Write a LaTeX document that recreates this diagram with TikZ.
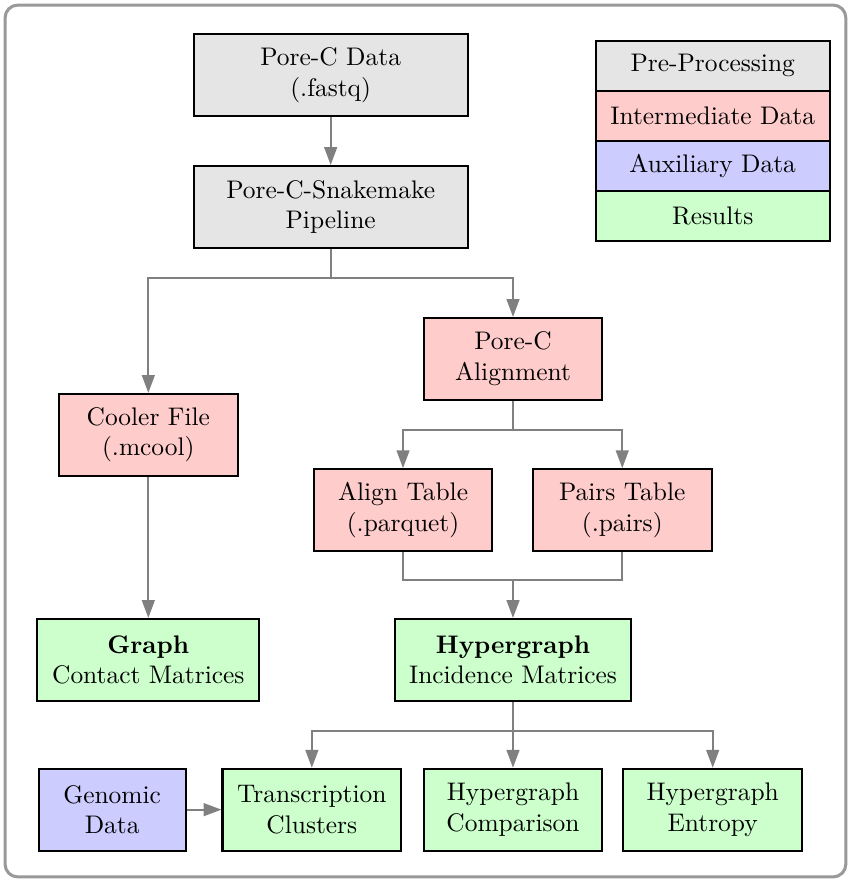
\documentclass[tikz,border=0pt]{standalone}
\usepackage{xcolor}
\usepackage{tikz}
\usetikzlibrary{arrows.meta, positioning, calc}

\begin{document}
\begin{tikzpicture}[
	>={Triangle[length=7pt,width=5pt]},
	box/.style={rectangle, draw, thick, align=center, minimum width=2.47cm, minimum height=1.13cm},
	prep/.style={box, fill=gray!20},
	inter/.style={box, fill=red!20},
	aux/.style={box, fill=blue!20},
	result/.style={box, fill=green!20},
	legend/.style={rectangle, draw, thick, outer sep=0pt, minimum width=3.23cm, minimum height=0.69cm},
	link/.style={draw=gray, thick},
	flow/.style={link, ->}
	]
	
	% Frame
	\useasboundingbox (0,0) rectangle (11.76,-12.19);
	\draw[gray!80, line width=1.2pt, rounded corners=5pt] (0.07,-0.07) rectangle (11.69,-12.12);
	
	% Pre-processing
	\node[prep, minimum width=3.79cm] (data) at (4.57,-1.04) {Pore-C Data\\(.fastq)};
	\node[prep, minimum width=3.79cm] (pipe) at (4.57,-2.86) {Pore-C-Snakemake\\Pipeline};
	
	% Intermediate data
	\node[inter] (align) at (7.09,-4.96) {Pore-C\\Alignment};
	\node[inter] (cooler) at (2.05,-6.01) {Cooler File\\(.mcool)};
	\node[inter] (atable) at (5.57,-7.05) {Align Table\\(.parquet)};
	\node[inter] (ptable) at (8.60,-7.05) {Pairs Table\\(.pairs)};
	
	% Results
	\node[result, minimum width=3.07cm] (graph) at (2.05,-9.12) {\textbf{Graph}\\Contact Matrices};
	\node[result, minimum width=3.25cm] (hyper) at (7.09,-9.12) {\textbf{Hypergraph}\\Incidence Matrices};
	\node[aux, minimum width=2.03cm] (genomic) at (1.55,-11.19) {Genomic\\Data};
	\node[result] (trans) at (4.31,-11.19) {Transcription\\Clusters};
	\node[result] (comp) at (7.09,-11.19) {Hypergraph\\Comparison};
	\node[result] (entropy) at (9.85,-11.19) {Hypergraph\\Entropy};
	
	% Legend
	\node[legend, fill=gray!20] (lprep) at (9.85,-0.91) {Pre-Processing};
	\node[legend, fill=red!20, anchor=north] (linter) at (lprep.south) {Intermediate Data};
	\node[legend, fill=blue!20, anchor=north] (laux) at (linter.south) {Auxiliary Data};
	\node[legend, fill=green!20, anchor=north] (lres) at (laux.south) {Results};
	
	% Branch points
	\coordinate (split1) at (4.57,-3.84);
	\coordinate (split2) at (7.09,-5.94);
	\coordinate (merge) at (7.09,-8.02);
	\coordinate (split3) at (7.09,-10.10);
	
	% Connectors
	\draw[flow] (data) -- (pipe);
	\draw[link] (pipe) -- (split1);
	\draw[flow] (split1) -| (cooler);
	\draw[flow] (split1) -| (align);
	\draw[flow] (cooler) -- (graph);
	\draw[link] (align) -- (split2);
	\draw[flow] (split2) -| (atable);
	\draw[flow] (split2) -| (ptable);
	\draw[link] (atable) |- (merge) -| (ptable);
	\draw[flow] (merge) -- (hyper);
	\draw[link] (hyper) -- (split3);
	\draw[flow] (split3) -| (trans);
	\draw[flow] (split3) -- (comp);
	\draw[flow] (split3) -| (entropy);
	\draw[flow] (genomic) -- (trans);
	
\end{tikzpicture}
\end{document}
